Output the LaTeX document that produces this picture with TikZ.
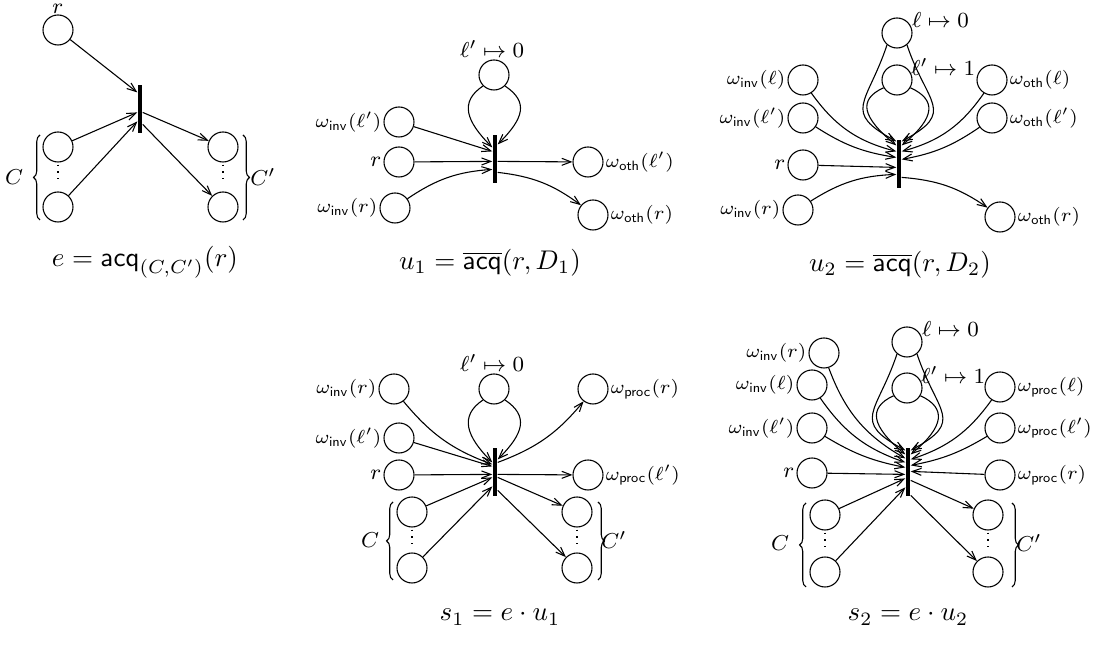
\documentclass[tikz,border=0pt]{standalone}
\usetikzlibrary{arrows.meta,calc,decorations.pathreplacing}
\begin{document}
\begin{tikzpicture}[x=0.37pt,y=-0.37pt,
 place/.style={circle,draw,line width=0.4pt,minimum size=11.1pt,inner sep=0pt},
 bar/.style={fill=black,minimum width=1.6pt,minimum height=17.8pt,inner sep=0pt},
 arr/.style={-{Straight Barb[length=3.4pt,width=2.6pt]},line width=0.4pt},
 lab/.style={font=\fontsize{8.3}{10}\selectfont,inner sep=0.6pt},
 wlab/.style={font=\fontsize{7.5}{9}\selectfont,inner sep=0.6pt},
 captxt/.style={font=\fontsize{10}{12}\selectfont},
 brc/.style={decorate,decoration={brace,amplitude=2.4pt},line width=0.4pt},
 dts/.style={dotted,line width=0.5pt}]
\useasboundingbox (0,0) rectangle (1097,646);

% ---------- e ----------
\node[bar] (et) at (140,109) {};
\node[place,label={[lab,label distance=-0.5pt]above:$r$}] (er) at (58,30) {};
\node[place] (ec1) at (58,147) {};
\node[place] (ec2) at (58,207) {};
\node[place] (ed1) at (223,147) {};
\node[place] (ed2) at (223,207) {};
\draw[arr] (er) -- ($(et.north west)+(0,8)$);
\draw[arr] (ec1) -- ($(et.north west)+(0,28)$);
\draw[arr] (ec2) -- ($(et.north west)+(0,37)$);
\draw[arr] ($(et.north east)+(0,28)$) -- (ed1);
\draw[arr] ($(et.north east)+(0,40)$) -- (ed2);
\draw[dts] ($(ec1.south)+(0,2)$) -- ($(ec2.north)+(0,-9)$);
\draw[dts] ($(ed1.south)+(0,2)$) -- ($(ed2.north)+(0,-9)$);
\draw[brc] (40,220) -- (40,135);
\node[lab] (eC) at (14,177) {$C$};
\draw[brc] (243,135) -- (243,220);
\node[lab] (eCp) at (263,177) {$C'$};
\node[captxt] (ecap) at (145,262) {$e = \mathsf{acq}_{(C,C')}(r)$};

% ---------- u1 ----------
\node[bar] (ut) at (495,159) {};
\node[place,label={[lab,xshift=-0.7pt]above:$\ell'\mapsto 0$}] (ul) at (494,75) {};
\node[place,label={[wlab]left:$\omega_{\mathsf{inv}}(\ell')$}] (uil) at (399,122) {};
\node[place,label={[lab]left:$r$}] (ur) at (399,162) {};
\node[place,label={[wlab]left:$\omega_{\mathsf{inv}}(r)$}] (uir) at (395,208) {};
\node[place,label={[wlab]right:$\omega_{\mathsf{oth}}(\ell')$}] (uol) at (588,162) {};
\node[place,label={[wlab]right:$\omega_{\mathsf{oth}}(r)$}] (uor) at (593,215) {};
\draw[arr] (ul.225) .. controls +(-24,16) and +(-26,-26) .. ($(ut.north west)+(0,13)$);
\draw[arr] (ul.315) .. controls +(24,16) and +(26,-26) .. ($(ut.north east)+(0,10)$);
\draw[arr] (uil) -- ($(ut.north west)+(0,17)$);
\draw[arr] (ur) -- ($(ut.north west)+(0,27)$);
\draw[arr] (uir) to[bend left=15] ($(ut.north west)+(0,35)$);
\draw[arr] ($(ut.north east)+(0,27)$) -- (uol);
\draw[arr] ($(ut.north east)+(0,38)$) to[bend left=15] (uor);
\node[captxt] (ucap) at (490,263) {$u_1 = \overline{\mathsf{acq}}(r, D_1)$};

% ---------- u2 ----------
\node[bar] (vt) at (899,164) {};
\node[place] (vt0) at (897,33) {};
\node[lab,anchor=west] (vt0l) at (910,20) {$\ell\mapsto 0$};
\node[place] (vt1) at (897,80) {};
\node[lab,anchor=west] (vt1l) at (909,67) {$\ell'\mapsto 1$};
\node[place,label={[wlab]left:$\omega_{\mathsf{inv}}(\ell)$}] (vil) at (803,80) {};
\node[place,label={[wlab]left:$\omega_{\mathsf{inv}}(\ell')$}] (vill) at (803,118) {};
\node[place,label={[lab]left:$r$}] (vr) at (803,165) {};
\node[place,label={[wlab]left:$\omega_{\mathsf{inv}}(r)$}] (vir) at (798,210) {};
\node[place,label={[wlab]right:$\omega_{\mathsf{oth}}(\ell)$}] (vol) at (992,80) {};
\node[place,label={[wlab]right:$\omega_{\mathsf{oth}}(\ell')$}] (voll) at (992,118) {};
\node[place,label={[wlab]right:$\omega_{\mathsf{oth}}(r)$}] (vor) at (1000,217) {};
\draw[arr] (vt0.230) .. controls +(-20,60) and +(-55,-30) .. ($(vt.north west)+(0,2)$);
\draw[arr] (vt0.310) .. controls +(20,60) and +(55,-30) .. ($(vt.north east)+(0,2)$);
\draw[arr] (vt1.210) .. controls +(-26,12) and +(-34,-28) .. ($(vt.north west)+(0,6)$);
\draw[arr] (vt1.330) .. controls +(26,12) and +(34,-28) .. ($(vt.north east)+(0,6)$);
\draw[arr] (vil) to[bend right=20] ($(vt.north west)+(0,12)$);
\draw[arr] (vill) to[bend right=12] ($(vt.north west)+(0,18)$);
\draw[arr] (vr) -- ($(vt.north west)+(0,28)$);
\draw[arr] (vir) to[bend left=15] ($(vt.north west)+(0,35)$);
\draw[arr] (vol) to[bend left=20] ($(vt.north east)+(0,12)$);
\draw[arr] (voll) to[bend left=12] ($(vt.north east)+(0,20)$);
\draw[arr] ($(vt.north east)+(0,38)$) to[bend left=15] (vor);
\node[captxt] (vcap) at (900,265) {$u_2 = \overline{\mathsf{acq}}(r, D_2)$};

% ---------- s1 ----------
\node[bar] (st) at (495,472) {};
\node[place,label={[lab,xshift=-0.7pt]above:$\ell'\mapsto 0$}] (sl) at (494,389) {};
\node[place,label={[wlab]left:$\omega_{\mathsf{inv}}(r)$}] (sir) at (394,389) {};
\node[place,label={[wlab]left:$\omega_{\mathsf{inv}}(\ell')$}] (sil) at (399,438) {};
\node[place,label={[lab]left:$r$}] (sr) at (399,475) {};
\node[place] (sc1) at (412,512) {};
\node[place] (sc2) at (412,568) {};
\node[place,label={[wlab]right:$\omega_{\mathsf{proc}}(r)$}] (spr) at (593,389) {};
\node[place,label={[wlab]right:$\omega_{\mathsf{proc}}(\ell')$}] (spl) at (588,475) {};
\node[place] (sd1) at (577,512) {};
\node[place] (sd2) at (577,568) {};
\draw[arr] (sl.225) .. controls +(-24,16) and +(-26,-26) .. ($(st.north west)+(0,15)$);
\draw[arr] (sl.315) .. controls +(24,16) and +(26,-26) .. ($(st.north east)+(0,12)$);
\draw[arr] (sir) to[bend right=15] ($(st.north west)+(0,17)$);
\draw[arr] (sil) -- ($(st.north west)+(0,19)$);
\draw[arr] (sr) -- ($(st.north west)+(0,27)$);
\draw[arr] (sc1) -- ($(st.north west)+(0,30)$);
\draw[arr] (sc2) -- ($(st.north west)+(0,39)$);
\draw[arr] ($(st.north east)+(0,15)$) to[bend right=15] (spr);
\draw[arr] ($(st.north east)+(0,27)$) -- (spl);
\draw[arr] ($(st.north east)+(0,30)$) -- (sd1);
\draw[arr] ($(st.north east)+(0,43)$) -- (sd2);
\draw[dts] ($(sc1.south)+(0,2)$) -- ($(sc2.north)+(0,-9)$);
\draw[dts] ($(sd1.south)+(0,2)$) -- ($(sd2.north)+(0,-9)$);
\draw[brc] (393,580) -- (393,502);
\node[lab] (sC) at (370,540) {$C$};
\draw[brc] (598,502) -- (598,580);
\node[lab] (sCp) at (614,540) {$C'$};
\node[captxt] (scap) at (500,617) {$s_1 = e \cdot u_1$};

% ---------- s2 ----------
\node[bar] (wt) at (908,472) {};
\node[place] (wt0) at (907,342) {};
\node[lab,anchor=west] (wt0l) at (920,329) {$\ell\mapsto 0$};
\node[place] (wt1) at (907,388) {};
\node[lab,anchor=west] (wt1l) at (919,375) {$\ell'\mapsto 1$};
\node[place,label={[wlab]left:$\omega_{\mathsf{inv}}(r)$}] (wir) at (824,353) {};
\node[place,label={[wlab]left:$\omega_{\mathsf{inv}}(\ell)$}] (wil) at (812,385) {};
\node[place,label={[wlab]left:$\omega_{\mathsf{inv}}(\ell')$}] (will) at (812,428) {};
\node[place,label={[lab]left:$r$}] (wr) at (812,473) {};
\node[place] (wc1) at (825,515) {};
\node[place] (wc2) at (825,572) {};
\node[place,label={[wlab]right:$\omega_{\mathsf{proc}}(\ell)$}] (wpl) at (1000,387) {};
\node[place,label={[wlab]right:$\omega_{\mathsf{proc}}(\ell')$}] (wpll) at (1000,428) {};
\node[place,label={[wlab]right:$\omega_{\mathsf{proc}}(r)$}] (wpr) at (1000,475) {};
\node[place] (wd1) at (988,515) {};
\node[place] (wd2) at (988,572) {};
\draw[arr] (wt0.230) .. controls +(-20,60) and +(-55,-30) .. ($(wt.north west)+(0,3)$);
\draw[arr] (wt0.310) .. controls +(20,60) and +(55,-30) .. ($(wt.north east)+(0,3)$);
\draw[arr] (wt1.210) .. controls +(-26,12) and +(-34,-28) .. ($(wt.north west)+(0,7)$);
\draw[arr] (wt1.330) .. controls +(26,12) and +(34,-28) .. ($(wt.north east)+(0,7)$);
\draw[arr] (wir) to[bend right=20] ($(wt.north west)+(0,11)$);
\draw[arr] (wil) to[bend right=18] ($(wt.north west)+(0,15)$);
\draw[arr] (will) to[bend right=10] ($(wt.north west)+(0,20)$);
\draw[arr] (wr) -- ($(wt.north west)+(0,27)$);
\draw[arr] (wc1) -- ($(wt.north west)+(0,31)$);
\draw[arr] (wc2) -- ($(wt.north west)+(0,40)$);
\draw[arr] (wpl) to[bend left=18] ($(wt.north east)+(0,12)$);
\draw[arr] (wpll) to[bend left=10] ($(wt.north east)+(0,18)$);
\draw[arr] (wpr) -- ($(wt.north east)+(0,24)$);
\draw[arr] ($(wt.north east)+(0,33)$) -- (wd1);
\draw[arr] ($(wt.north east)+(0,48)$) -- (wd2);
\draw[dts] ($(wc1.south)+(0,2)$) -- ($(wc2.north)+(0,-9)$);
\draw[dts] ($(wd1.south)+(0,2)$) -- ($(wd2.north)+(0,-9)$);
\draw[brc] (806,587) -- (806,503);
\node[lab] (wC) at (780,543) {$C$};
\draw[brc] (1012,503) -- (1012,587);
\node[lab] (wCp) at (1029,543) {$C'$};
\node[captxt] (wcap) at (908,617) {$s_2 = e \cdot u_2$};
\end{tikzpicture}
\end{document}
